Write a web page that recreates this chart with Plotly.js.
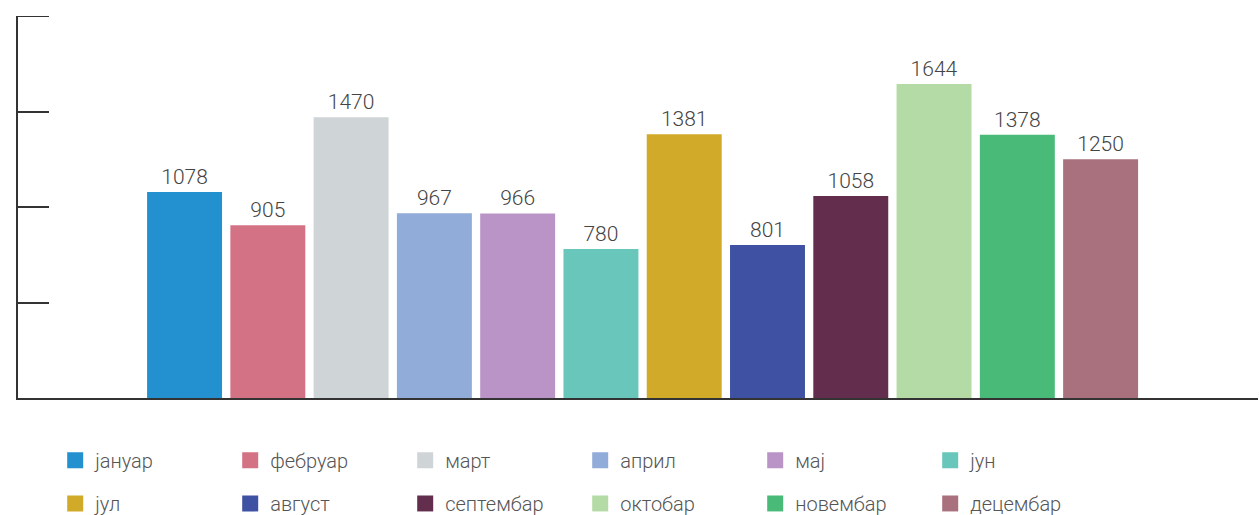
<!DOCTYPE html>
<html><head><meta charset="utf-8">
<script src="https://cdn.plot.ly/plotly-3.0.1.min.js"></script>
<style>body{margin:0;background:#fff}#chart{width:1259px;height:515px}</style>
</head><body><div id="chart"></div>
<script>
const months = ["јануар","фебруар","март","април","мај","јун","јул","август","септембар","октобар","новембар","децембар"];
const values = [1078, 905, 1470, 967, 966, 780, 1381, 801, 1058, 1644, 1378, 1250];
const colors = ["#2390D0","#D47285","#CFD4D6","#91ACD8","#BA94C6","#68C6BA","#D2AA29","#3F51A3","#632D4E","#B4DBA6","#4ABA79","#A9707D"];

const bars = months.map((m, i) => ({
  type: "bar",
  name: m,
  x: [m],
  y: [values[i]],
  text: [String(values[i])],
  textposition: "outside",
  cliponaxis: false,
  textfont: {family: "Roboto", size: 21, color: "#444", weight: 300},
  marker: {color: colors[i]},
  showlegend: false,
  hoverinfo: "skip"
}));

// legend-only entries (larger square swatches)
const keys = months.map((m, i) => ({
  type: "scatter",
  mode: "markers",
  name: m,
  x: [null],
  y: [null],
  marker: {symbol: "square", size: 16, color: colors[i]},
  legend: i < 6 ? "legend" : "legend2",
  hoverinfo: "skip"
}));

const legendBase = {
  orientation: "h",
  entrywidth: 130,
  entrywidthmode: "pixels",
  xanchor: "left",
  yanchor: "middle",
  itemsizing: "trace",
  font: {family: "Roboto", size: 20, color: "#555", weight: 300},
  bgcolor: "rgba(0,0,0,0)"
};

const layout = {
  width: 1259, height: 515,
  margin: {l: 18, r: 1, t: 16, b: 117, autoexpand: false},
  paper_bgcolor: "#fff", plot_bgcolor: "#fff",
  barmode: "overlay",
  bargap: 0.1,
  showlegend: true,
  legend: Object.assign({}, legendBase, {x: 0.03, y: -0.163}),
  legend2: Object.assign({}, legendBase, {x: 0.03, y: -0.276}),
  xaxis: {
    type: "category",
    categoryorder: "array", categoryarray: months,
    range: [-2.0, 12.89],
    showticklabels: false, ticks: "", showgrid: false, zeroline: false,
    showline: true, linecolor: "#333", linewidth: 2
  },
  yaxis: {
    range: [0, 2000], dtick: 500, tick0: 0,
    showticklabels: false, ticks: "inside", ticklen: 31, tickwidth: 2, tickcolor: "#333",
    showgrid: false, zeroline: false,
    showline: true, linecolor: "#333", linewidth: 2
  },
  shapes: [{
    type: "line", xref: "paper", xsizemode: "pixel", xanchor: 0, x0: 0, x1: 31,
    yref: "y", y0: 2000, y1: 2000,
    line: {color: "#333", width: 2}
  }]
};

Plotly.newPlot("chart", bars.concat(keys), layout, {displayModeBar: false, staticPlot: true});
</script></body></html>
